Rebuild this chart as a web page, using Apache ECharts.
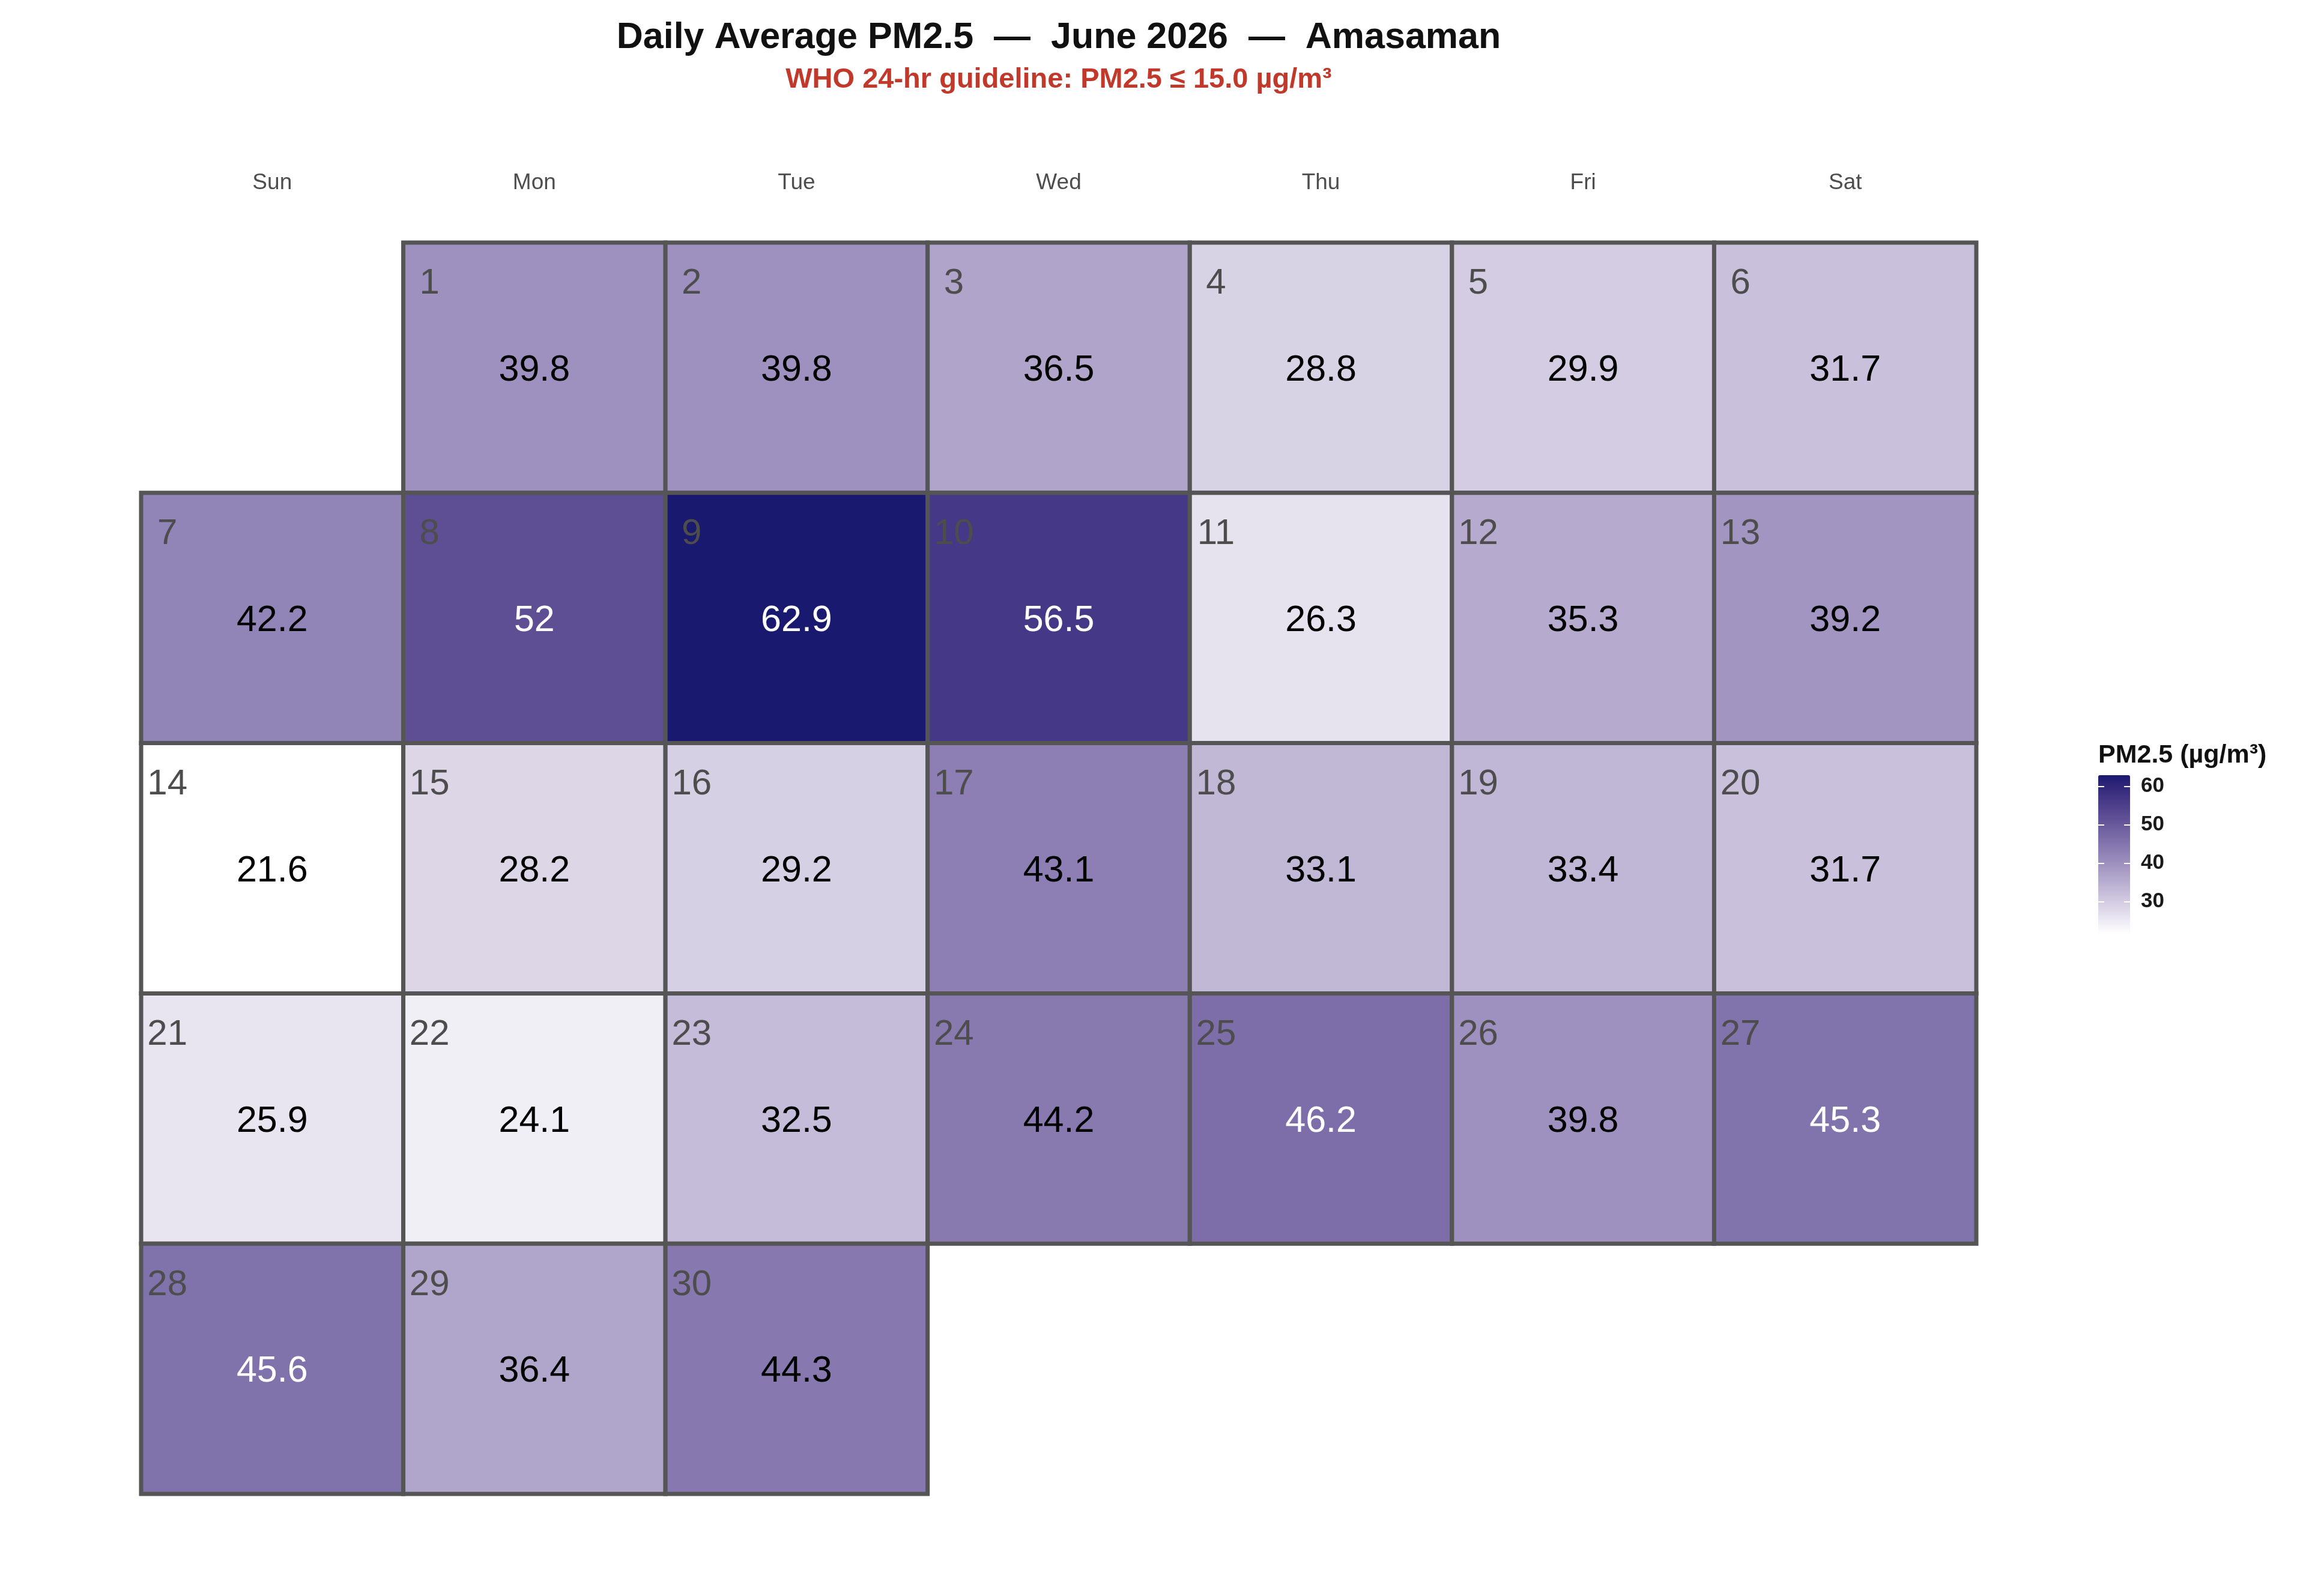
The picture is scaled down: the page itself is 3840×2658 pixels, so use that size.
<!DOCTYPE html>
<html>
<head>
<meta charset="utf-8">
<script src="https://cdn.jsdelivr.net/npm/echarts@6/dist/echarts.min.js"></script>
<style>
html,body{margin:0;padding:0;background:#fff;}
#chart{width:3840px;height:2658px;}
</style>
</head>
<body>
<div id="chart"></div>
<script>
// ---------- data ----------
const titleText = 'Daily Average PM2.5  \u2014  June 2026  \u2014  Amasaman';
const subtitleText = 'WHO 24-hr guideline: PM2.5 \u2264 15.0 \u00b5g/m\u00b3';
const legendTitle = 'PM2.5 (\u00b5g/m\u00b3)';
const year = 2026;
const monthIndex = 5; // June
const weekdayLabels = ['Sun', 'Mon', 'Tue', 'Wed', 'Thu', 'Fri', 'Sat'];
const dayNumbers = [1,2,3,4,5,6,7,8,9,10,11,12,13,14,15,16,17,18,19,20,21,22,23,24,25,26,27,28,29,30];
const pm25Values = [39.8, 39.8, 36.5, 28.8, 29.9, 31.7,
                    42.2, 52, 62.9, 56.5, 26.3, 35.3, 39.2,
                    21.6, 28.2, 29.2, 43.1, 33.1, 33.4, 31.7,
                    25.9, 24.1, 32.5, 44.2, 46.2, 39.8, 45.3,
                    45.6, 36.4, 44.3];
const legendTicks = [30, 40, 50, 60];
const whiteLabelAbove = 45;

// ---------- colour scale (Lab interpolation white -> midnightblue) ----------
function hexToRgb(h){h=h.replace('#','');return [0,2,4].map(i=>parseInt(h.substr(i,2),16));}
function srgbToLin(c){c/=255;return c<=0.04045?c/12.92:Math.pow((c+0.055)/1.055,2.4);}
function linToSrgb(c){c=c<=0.0031308?12.92*c:1.055*Math.pow(c,1/2.4)-0.055;return Math.max(0,Math.min(255,Math.round(c*255)));}
function rgbToLab(rgb){
  const [r,g,b]=rgb.map(srgbToLin);
  let X=(0.4124*r+0.3576*g+0.1805*b)/0.95047, Y=(0.2126*r+0.7152*g+0.0722*b), Z=(0.0193*r+0.1192*g+0.9505*b)/1.08883;
  const f=t=>t>0.008856?Math.cbrt(t):(7.787*t+16/116);
  const fx=f(X),fy=f(Y),fz=f(Z);
  return [116*fy-16,500*(fx-fy),200*(fy-fz)];
}
function labToHex(lab){
  const fy=(lab[0]+16)/116, fx=fy+lab[1]/500, fz=fy-lab[2]/200;
  const inv=t=>{const t3=t*t*t;return t3>0.008856?t3:(t-16/116)/7.787;};
  const X=inv(fx)*0.95047, Y=inv(fy), Z=inv(fz)*1.08883;
  const r=3.2406*X-1.5372*Y-0.4986*Z, g=-0.9689*X+1.8758*Y+0.0415*Z, b=0.0557*X-0.2040*Y+1.0570*Z;
  return '#'+[r,g,b].map(linToSrgb).map(v=>v.toString(16).padStart(2,'0')).join('');
}
function labRamp(c0,c1,n){
  const a=rgbToLab(hexToRgb(c0)), b=rgbToLab(hexToRgb(c1)); const out=[];
  for(let i=0;i<n;i++){const t=i/(n-1);out.push(labToHex([0,1,2].map(k=>a[k]+(b[k]-a[k])*t)));}
  return out;
}
const rampColors = labRamp('#FFFFFF', '#191970', 41);

// ---------- layout of days ----------
const firstDow = new Date(year, monthIndex, 1).getDay();
const cells = dayNumbers.map((d, i) => {
  const dow = new Date(year, monthIndex, d).getDay();
  const week = Math.floor((d - 1 + firstDow) / 7);
  return [dow, week, pm25Values[i], d];
});
const nWeeks = Math.max(...cells.map(c => c[1])) + 1;
const weekCats = Array.from({length: nWeeks}, (_, i) => 'W' + (i + 1));
const vMin = Math.min(...pm25Values), vMax = Math.max(...pm25Values);

const FONT = '"Liberation Sans", Arial, Helvetica, sans-serif';
const chart = echarts.init(document.getElementById('chart'), null, {renderer: 'canvas'});

const option = {
  backgroundColor: '#ffffff',
  animation: false,
  textStyle: {fontFamily: FONT},
  grid: [
    {left: 235, top: 404, width: 3056, height: 2084},
    {left: 3494, top: 1291, width: 53, height: 264}
  ],
  xAxis: [
    {type: 'category', gridIndex: 0, data: weekdayLabels, position: 'top',
     axisLine: {show: false}, axisTick: {show: false}, splitLine: {show: false},
     axisLabel: {margin: 81, fontSize: 37, color: '#4d4d4d', fontFamily: FONT}},
    {type: 'value', gridIndex: 1, show: false, min: 0, max: 1}
  ],
  yAxis: [
    {type: 'category', gridIndex: 0, data: weekCats, inverse: true, show: false},
    {type: 'value', gridIndex: 1, position: 'left', min: vMin, max: vMax, z: 10,
     axisLine: {show: false}, splitLine: {show: false}, axisLabel: {show: false},
     axisTick: {show: true, inside: true, length: 10, customValues: legendTicks,
                lineStyle: {color: '#ffffff', width: 2}}},
    {type: 'value', gridIndex: 1, position: 'right', min: vMin, max: vMax, z: 10,
     axisLine: {show: false}, splitLine: {show: false},
     axisTick: {show: true, inside: true, length: 10, customValues: legendTicks,
                lineStyle: {color: '#ffffff', width: 2}},
     axisLabel: {customValues: legendTicks, margin: 18, fontSize: 35, fontWeight: 'bold',
                 color: '#1a1a1a', fontFamily: FONT}}
  ],
  visualMap: {
    type: 'continuous', seriesIndex: 0, dimension: 2, min: vMin, max: vMax,
    inRange: {color: rampColors}, orient: 'vertical', left: 3494, top: 1291,
    itemWidth: 53, itemHeight: 264, padding: 0, calculable: false, hoverLink: false,
    text: null, showLabel: false, z: 2
  },
  graphic: [
    {type: 'text', x: 1763, y: 63, style: {text: titleText, font: 'bold 61px ' + FONT, fill: '#111111', align: 'center', verticalAlign: 'middle', textAlign: 'center', textVerticalAlign: 'middle'}},
    {type: 'text', x: 1763, y: 133, style: {text: subtitleText, font: 'bold 47px ' + FONT, fill: '#c0392b', align: 'center', verticalAlign: 'middle', textAlign: 'center', textVerticalAlign: 'middle'}},
    {type: 'text', x: 3494, y: 1258, style: {text: legendTitle, font: 'bold 43px ' + FONT, fill: '#111111', align: 'left', verticalAlign: 'middle', textAlign: 'left', textVerticalAlign: 'middle'}}
  ],
  series: [{
    type: 'custom', xAxisIndex: 0, yAxisIndex: 0,
    encode: {x: 0, y: 1},
    data: cells,
    renderItem: function (params, api) {
      const c = api.coord([api.value(0), api.value(1)]);
      const s = api.size([1, 1]);
      const v = api.value(2);
      const d = api.value(3);
      return {
        type: 'group',
        children: [
          {type: 'rect', shape: {x: c[0] - s[0] / 2, y: c[1] - s[1] / 2, width: s[0], height: s[1]},
           style: {fill: api.visual('color'), stroke: '#555555', lineWidth: 7}},
          {type: 'text', x: c[0], y: c[1] + 5,
           style: {text: String(v), font: '61px ' + FONT, fill: v > whiteLabelAbove ? '#ffffff' : '#000000',
                   align: 'center', verticalAlign: 'middle', textAlign: 'center', textVerticalAlign: 'middle'}},
          {type: 'text', x: c[0] - 0.4 * s[0], y: c[1] - 0.347 * s[1] + 5,
           style: {text: String(d), font: '60px ' + FONT, fill: '#4d4d4d',
                   align: 'center', verticalAlign: 'middle', textAlign: 'center', textVerticalAlign: 'middle'}}
        ]
      };
    }
  }]
};
chart.setOption(option);
</script>
</body>
</html>
